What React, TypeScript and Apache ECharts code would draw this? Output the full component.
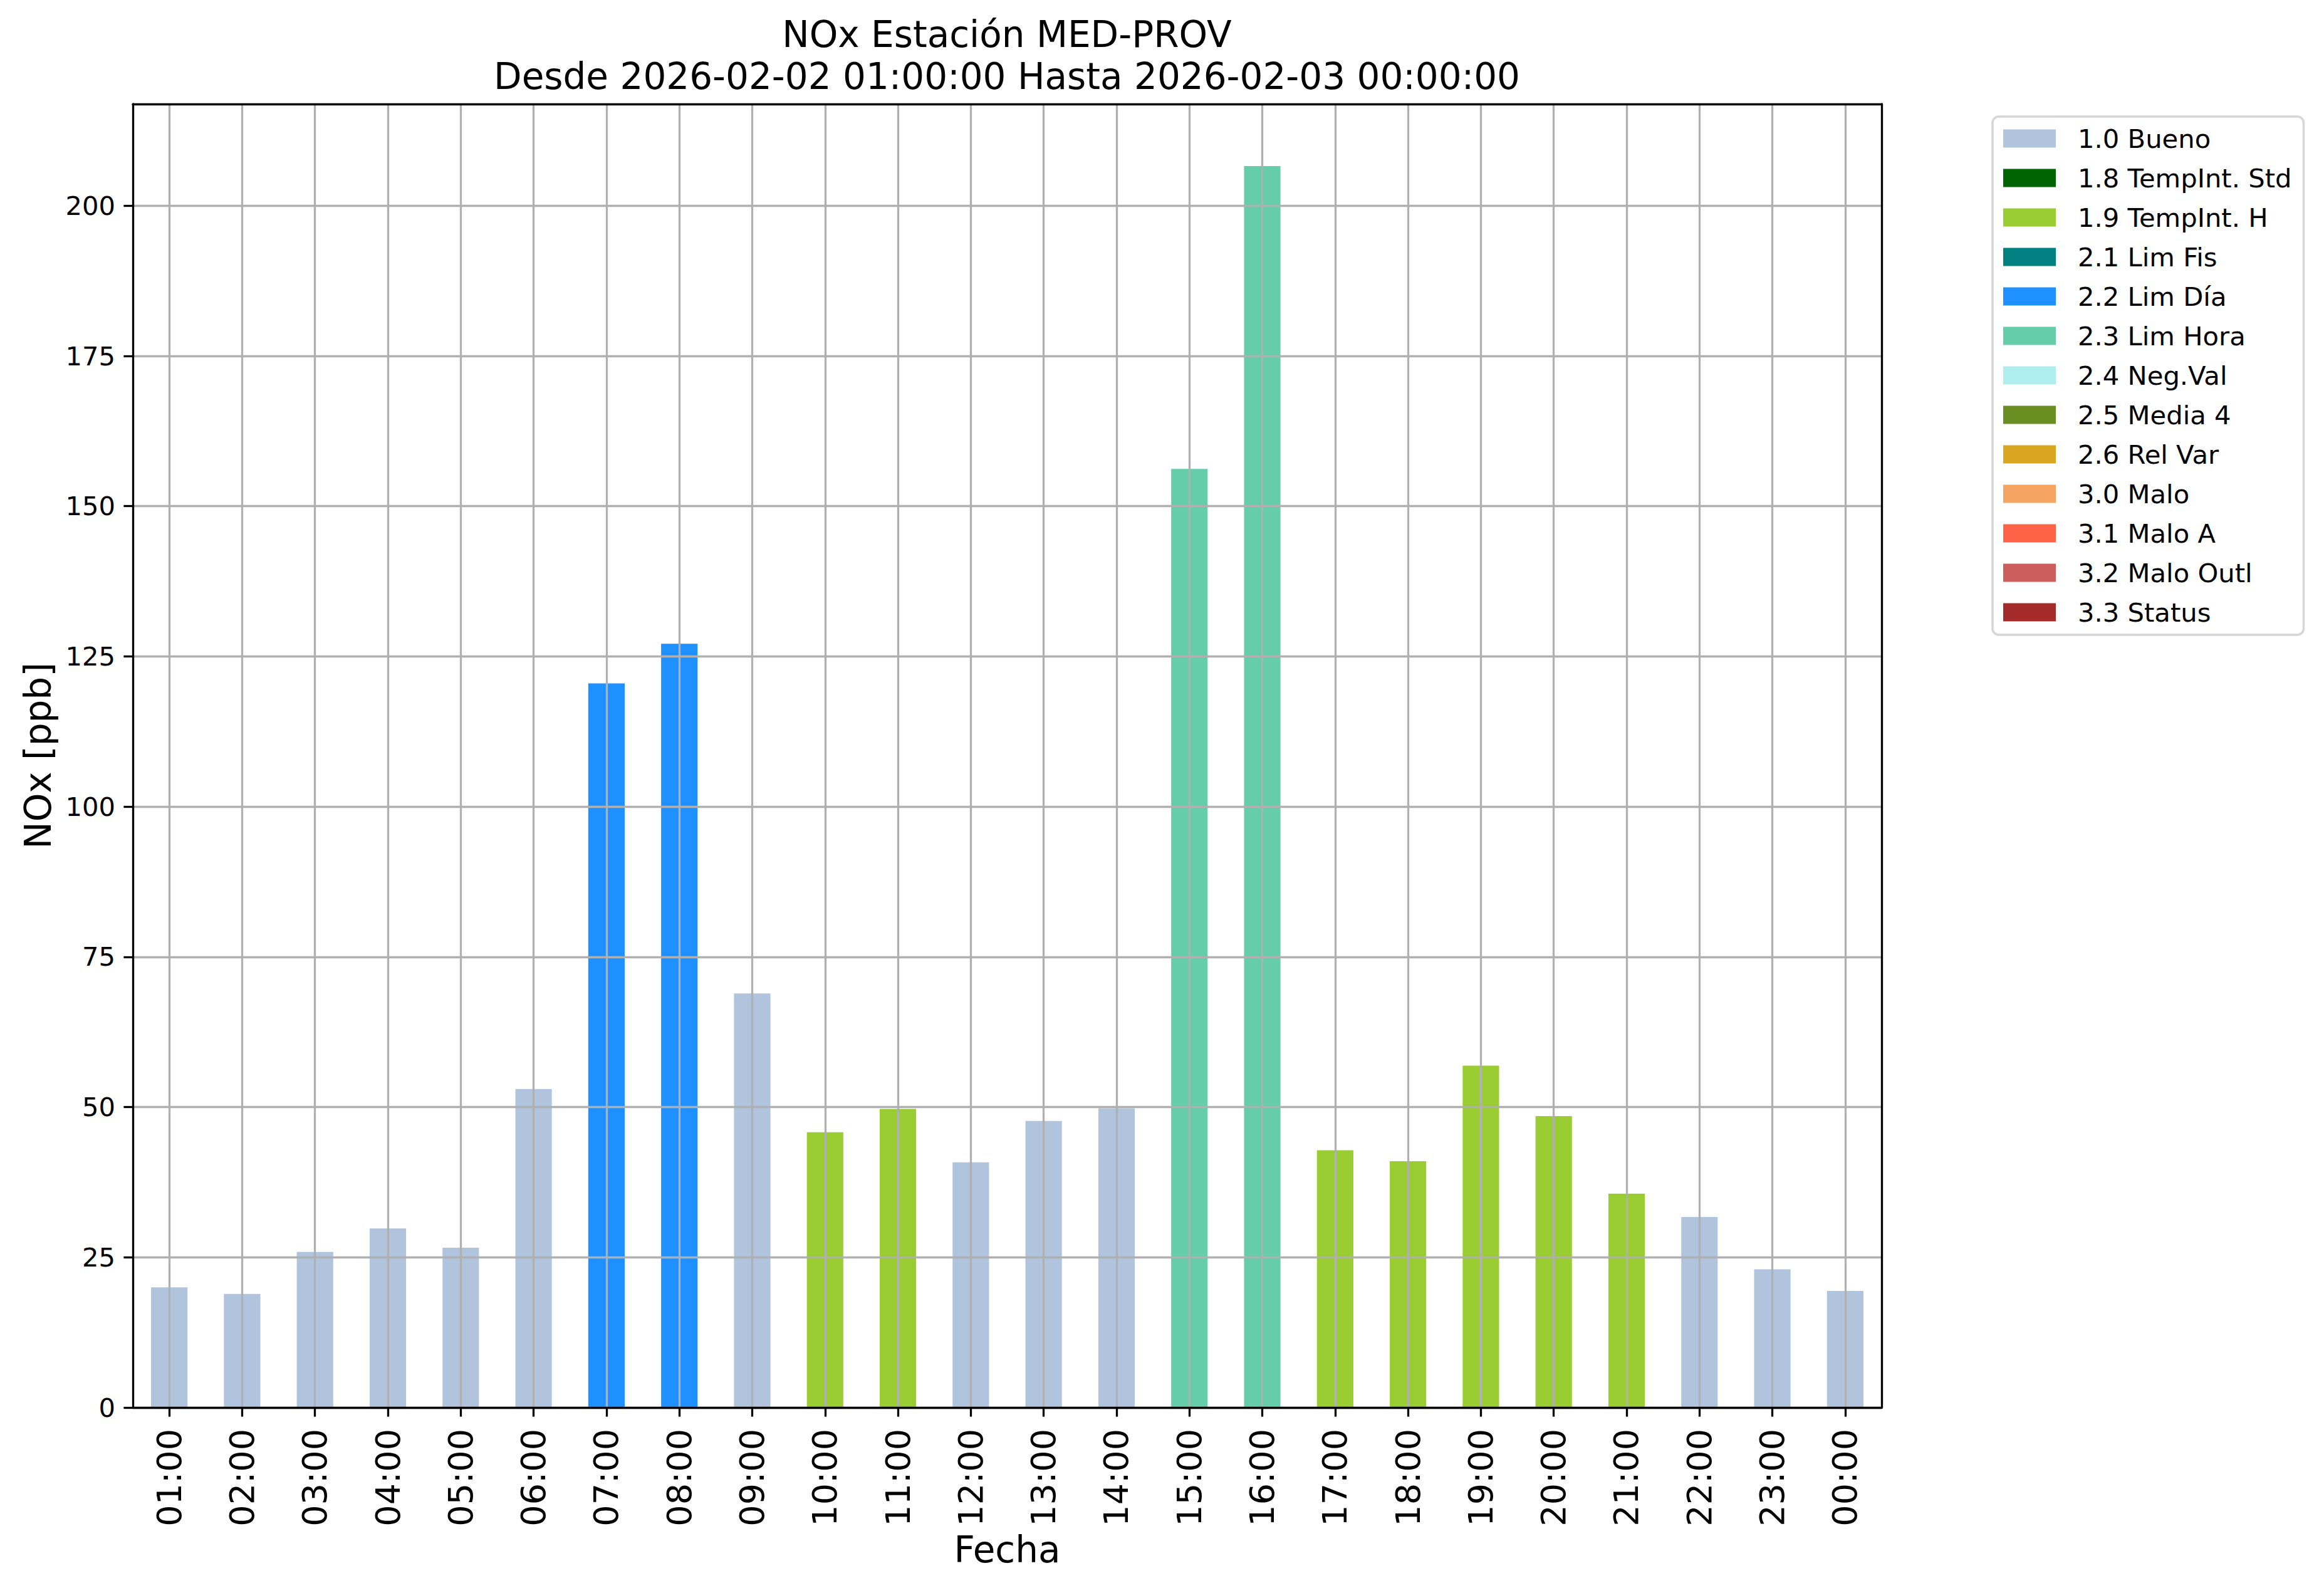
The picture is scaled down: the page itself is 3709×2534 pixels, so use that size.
import React, { useEffect, useRef } from "react";
import * as echarts from "echarts";

const hours = [
  "01:00", "02:00", "03:00", "04:00", "05:00", "06:00", "07:00", "08:00",
  "09:00", "10:00", "11:00", "12:00", "13:00", "14:00", "15:00", "16:00",
  "17:00", "18:00", "19:00", "20:00", "21:00", "22:00", "23:00", "00:00",
];
const values = [
  20.0, 18.9, 25.9, 29.8, 26.6, 53.0, 120.5, 127.1,
  68.9, 45.8, 49.7, 40.8, 47.7, 49.8, 156.2, 206.6,
  42.8, 41.0, 56.9, 48.5, 35.6, 31.7, 23.0, 19.4,
];
const flags = [
  "1.0", "1.0", "1.0", "1.0", "1.0", "1.0", "2.2", "2.2",
  "1.0", "1.9", "1.9", "1.0", "1.0", "1.0", "2.3", "2.3",
  "1.9", "1.9", "1.9", "1.9", "1.9", "1.0", "1.0", "1.0",
];
const categoryCodes = ["1.0", "1.8", "1.9", "2.1", "2.2", "2.3", "2.4", "2.5", "2.6", "3.0", "3.1", "3.2", "3.3"];
const categoryNames = [
  "1.0 Bueno", "1.8 TempInt. Std", "1.9 TempInt. H", "2.1 Lim Fis", "2.2 Lim Día",
  "2.3 Lim Hora", "2.4 Neg.Val", "2.5 Media 4", "2.6 Rel Var", "3.0 Malo",
  "3.1 Malo A", "3.2 Malo Outl", "3.3 Status",
];
const categoryColors = [
  "#B0C4DE", "#006400", "#9ACD32", "#008080", "#1E90FF", "#66CDAA", "#AFEEEE",
  "#6B8E23", "#DAA520", "#F4A460", "#FF6347", "#CD5C5C", "#A52A2A",
];
const yTicks = [0, 25, 50, 75, 100, 125, 150, 175, 200];
const titleText = "NOx Estación MED-PROV\nDesde 2026-02-02 01:00:00 Hasta 2026-02-03 00:00:00";
const xName = "Fecha";
const yName = "NOx [ppb]";

const FONT = "DejaVu Sans";
const GRID_COLOR = "#b0b0b0";
const LW = 3.3;

export default function App() {
  const ref = useRef<HTMLDivElement>(null);
  useEffect(() => {
    if (!ref.current) return;
    const chart = echarts.init(ref.current, undefined, { renderer: "svg" });
    const yMax = Math.max(...values) * 1.05;
    const series: any[] = categoryNames.map((name, ci) => ({
      name,
      type: "bar",
      stack: "total",
      barWidth: "50%",
      z: 2,
      itemStyle: { color: categoryColors[ci] },
      data: values.map((v, i) => (flags[i] === categoryCodes[ci] ? v : null)),
      markLine:
        ci === 0
          ? {
              silent: true,
              symbol: ["none", "none"],
              z: 5,
              label: { show: false },
              lineStyle: { color: GRID_COLOR, width: LW, type: "solid" },
              emphasis: { disabled: true },
              data: hours.map((h) => ({ xAxis: h })),
            }
          : undefined,
    }));
    chart.setOption({
      animation: false,
      backgroundColor: "#fff",
      title: {
        text: titleText,
        left: 1607,
        top: 21,
        padding: 0,
        textAlign: "center",
        textStyle: { fontFamily: FONT, fontSize: 58, lineHeight: 67, fontWeight: "normal", color: "#000" },
      },
      legend: {
        orient: "vertical",
        left: 3180,
        top: 186,
        padding: [14, 19, 15, 17],
        itemWidth: 84,
        itemHeight: 29,
        itemGap: 21,
        icon: "rect",
        borderColor: "#d6d6d6",
        borderWidth: 3.5,
        borderRadius: 10,
        backgroundColor: "#fff",
        selectedMode: false,
        data: categoryNames,
        textStyle: { fontFamily: FONT, fontSize: 41.7, lineHeight: 42, color: "#000", padding: [0, 0, 0, 30] },
      },
      grid: { left: 212, top: 166, width: 2791, height: 2080, show: false },
      xAxis: [
        {
          type: "category",
          data: hours,
          z: 10,
          name: xName,
          nameLocation: "middle",
          nameGap: 190,
          nameTextStyle: { fontFamily: FONT, fontSize: 58, color: "#000" },
          axisLine: { show: true, onZero: false, lineStyle: { color: "#000", width: LW } },
          axisTick: { show: true, alignWithLabel: true, length: 14.6, lineStyle: { color: "#000", width: LW } },
          axisLabel: { rotate: 90, interval: 0, margin: 34, fontFamily: FONT, fontSize: 54, color: "#000" },
          splitLine: { show: false },
        },
        {
          type: "category",
          data: hours,
          position: "top",
          z: 10,
          axisLine: { show: true, onZero: false, lineStyle: { color: "#000", width: LW } },
          axisTick: { show: false },
          axisLabel: { show: false },
          splitLine: { show: false },
        },
      ],
      yAxis: [
        {
          type: "value",
          min: 0,
          max: yMax,
          z: 3,
          name: yName,
          nameLocation: "middle",
          nameGap: 122,
          nameRotate: 90,
          nameTextStyle: { fontFamily: FONT, fontSize: 58, color: "#000" },
          axisLine: { show: true, onZero: false, lineStyle: { color: "#000", width: LW } },
          axisTick: { show: true, length: 14.6, customValues: yTicks, lineStyle: { color: "#000", width: LW } },
          axisLabel: { customValues: yTicks, margin: 28, fontFamily: FONT, fontSize: 41.7, color: "#000" },
          splitLine: { show: true, lineStyle: { color: GRID_COLOR, width: LW } },
        },
        {
          type: "value",
          min: 0,
          max: yMax,
          position: "right",
          z: 10,
          axisLine: { show: true, onZero: false, lineStyle: { color: "#000", width: LW } },
          axisTick: { show: false },
          axisLabel: { show: false },
          splitLine: { show: false },
        },
      ],
      series,
    });
    return () => chart.dispose();
  }, []);
  return <div ref={ref} style={{ position: "fixed", left: 0, top: 0, width: 3709, height: 2534 }} />;
}
